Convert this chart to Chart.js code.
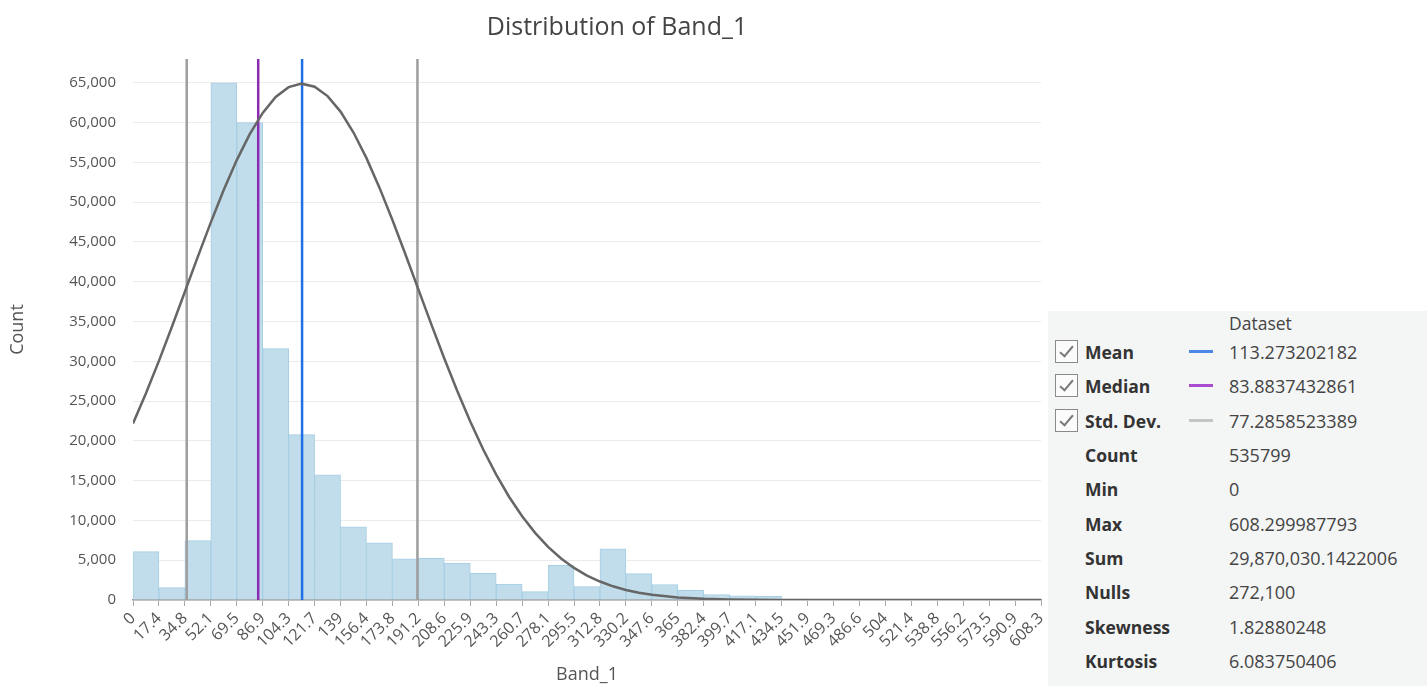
<!DOCTYPE html>
<html>
<head>
<meta charset="utf-8">
<title>Distribution of Band_1</title>
<script src="https://cdn.jsdelivr.net/npm/chart.js@4.4.1/dist/chart.umd.min.js"></script>
<style>
  html, body { margin: 0; padding: 0; background: #fff; }
  #wrap { position: relative; width: 1427px; height: 686px; overflow: hidden; font-family: 'Open Sans', sans-serif; }
  #chart { position: absolute; left: 0; top: 0; }
  #title { position: absolute; left: 0; top: 8px; width: 1234px; text-align: center; font-size: 25px; line-height: 34px; color: #444; }
  #stats { position: absolute; left: 1048px; top: 311px; width: 379px; height: 375px; background: #f4f5f5; color: #444; }
  #stats .head { position: absolute; left: 181px; top: 0; height: 24px; line-height: 24px; font-size: 17.5px; }
  #stats .row { position: absolute; left: 0; width: 379px; height: 34px; }
  #stats .box { position: absolute; left: 7px; top: 5px; width: 21px; height: 21px; border: 1.5px solid #8a8a8a; background: #fbfbfb; }
  #stats .box::after { content: ''; position: absolute; left: 7px; top: 2px; width: 5px; height: 12px; border-right: 2px solid #7a7a7a; border-bottom: 2px solid #7a7a7a; transform: rotate(40deg); }
  #stats .lab { position: absolute; left: 37px; top: 0; line-height: 34px; font-size: 17.5px; font-weight: bold; color: #333; }
  #stats .sw { position: absolute; left: 141px; top: 15px; width: 24px; height: 3px; }
  #stats .val { position: absolute; left: 181px; top: 0; line-height: 34px; font-size: 18px; color: #444; }
</style>
</head>
<body>
<div id="wrap">
  <canvas id="chart" width="1427" height="686"></canvas>
  <div id="title">Distribution of Band_1</div>
  <div id="stats"></div>
</div>
<script>
// Histogram bin edges (35 equal bins from Min to Max)
const binEdges = [0, 17.38, 34.76, 52.14, 69.52, 86.9, 104.28, 121.66, 139.04, 156.42,
  173.8, 191.18, 208.56, 225.94, 243.32, 260.7, 278.08, 295.46, 312.84, 330.22,
  347.6, 364.98, 382.36, 399.74, 417.12, 434.5, 451.88, 469.26, 486.64, 504.02,
  521.4, 538.78, 556.16, 573.54, 590.92, 608.3];

// Tick labels printed under each bin edge
const tickLabels = ['0', '17.4', '34.8', '52.1', '69.5', '86.9', '104.3', '121.7', '139', '156.4',
  '173.8', '191.2', '208.6', '225.9', '243.3', '260.7', '278.1', '295.5', '312.8', '330.2',
  '347.6', '365', '382.4', '399.7', '417.1', '434.5', '451.9', '469.3', '486.6', '504',
  '521.4', '538.8', '556.2', '573.5', '590.9', '608.3'];

// Count per bin
const binCounts = [6080, 1550, 7470, 65000, 60000, 31600, 20780, 15740, 9190, 7180,
  5180, 5250, 4650, 3340, 2000, 1050, 4370, 1680, 6420, 3320,
  1950, 1220, 670, 520, 460, 120, 70, 40, 25, 15,
  10, 8, 5, 3, 2];

// Fitted normal curve, sampled along the value axis
const curveX = [0, 8.69, 17.38, 26.07, 34.76, 43.45, 52.14, 60.83, 69.52, 78.21,
  86.9, 95.59, 104.28, 112.97, 121.66, 130.35, 139.04, 147.73, 156.42, 165.11,
  173.8, 182.49, 191.18, 199.87, 208.56, 217.25, 225.94, 234.63, 243.32, 252.01,
  260.7, 269.39, 278.08, 286.77, 295.46, 304.15, 312.84, 321.53, 330.22, 338.91,
  347.6, 364.98, 382.36, 399.74, 417.12, 434.5, 451.88, 469.26, 608.3];
const curveY = [22180, 25980, 30060, 34350, 38750, 43160, 47470, 51560, 55290, 58550,
  61230, 63230, 64460, 64900, 64520, 63340, 61390, 58760, 55540, 51830,
  47760, 43460, 39050, 34640, 30350, 26260, 22430, 18920, 15760, 12950,
  10520, 8440, 6680, 5220, 4030, 3070, 2320, 1720, 1260, 915,
  650, 320, 150, 70, 30, 10, 5, 0, 0];

// Count axis ticks
const yTicks = [0, 5000, 10000, 15000, 20000, 25000, 30000, 35000, 40000, 45000, 50000, 55000, 60000, 65000];
const yMax = 68000;

// Summary statistics
const statLabels = ['Mean', 'Median', 'Std. Dev.', 'Count', 'Min', 'Max', 'Sum', 'Nulls', 'Skewness', 'Kurtosis'];
const statValues = ['113.273202182', '83.8837432861', '77.2858523389', '535799', '0', '608.299987793',
  '29,870,030.1422006', '272,100', '1.82880248', '6.083750406'];
const statChecked = [true, true, true, false, false, false, false, false, false, false];
const statSwatch = ['#4a86e8', '#a94ccf', '#c4c4c4', null, null, null, null, null, null, null];

const meanValue = 113.273202182;
const medianValue = 83.8837432861;
const stdValue = 77.2858523389;

const FONT = "'Open Sans', sans-serif";
Chart.defaults.font.family = FONT;

function vline(x, color, order) {
  return {
    type: 'line',
    data: [{ x: x, y: 0 }, { x: x, y: yMax }],
    borderColor: color,
    borderWidth: 2.5,
    pointRadius: 0,
    order: order
  };
}

const barData = binCounts.map((c, i) => ({ x: (binEdges[i] + binEdges[i + 1]) / 2, y: c }));
const curveData = curveX.map((x, i) => ({ x: x, y: curveY[i] }));

new Chart(document.getElementById('chart'), {
  type: 'bar',
  data: {
    datasets: [
      {
        type: 'bar',
        data: barData,
        backgroundColor: '#c1dcea',
        borderColor: '#a6cfe4',
        borderWidth: 1,
        barPercentage: 1,
        categoryPercentage: 1,
        order: 5
      },
      vline(meanValue - stdValue, '#9e9e9e', 4),
      vline(meanValue + stdValue, '#9e9e9e', 4),
      vline(medianValue, '#8b2bb3', 3),
      vline(meanValue, '#1f6fe6', 2),
      {
        type: 'line',
        data: curveData,
        borderColor: '#666666',
        borderWidth: 2.5,
        pointRadius: 0,
        tension: 0,
        order: 1
      }
    ]
  },
  options: {
    responsive: false,
    animation: false,
    layout: { padding: { top: 59, left: 0, right: 386, bottom: 0 } },
    plugins: {
      legend: { display: false },
      tooltip: { enabled: false },
      title: { display: false }
    },
    scales: {
      x: {
        type: 'linear',
        min: 0,
        max: 608.3,
        offset: false,
        afterBuildTicks: s => { s.ticks = binEdges.map(v => ({ value: v })); },
        afterFit: s => { s.height = 86; },
        ticks: {
          autoSkip: false,
          minRotation: 45,
          maxRotation: 45,
          padding: 3,
          color: '#555',
          font: { size: 16 },
          callback: (v, i) => tickLabels[i]
        },
        grid: { offset: false, drawOnChartArea: false, drawTicks: true, tickLength: 6, color: '#a8a8a8', lineWidth: 1 },
        border: { display: true, color: '#9a9a9a', width: 1.5 },
        title: { display: true, text: 'Band_1', color: '#555', font: { size: 18 }, padding: { top: 0, bottom: 0 } }
      },
      y: {
        min: 0,
        max: yMax,
        afterBuildTicks: s => { s.ticks = yTicks.map(v => ({ value: v })); },
        afterFit: s => { s.width = 133; },
        ticks: {
          padding: 17,
          color: '#555',
          font: { size: 15 },
          callback: v => v.toLocaleString('en-US')
        },
        grid: { drawTicks: false, color: '#ebebeb', lineWidth: 1 },
        border: { display: false },
        title: { display: true, text: 'Count', color: '#555', font: { size: 18 }, padding: { top: 7, bottom: 0 } }
      }
    }
  }
});

// Statistics panel
const panel = document.getElementById('stats');
const head = document.createElement('div');
head.className = 'head';
head.textContent = 'Dataset';
panel.appendChild(head);
statLabels.forEach((name, i) => {
  const row = document.createElement('div');
  row.className = 'row';
  row.style.top = (24 + i * 34.33) + 'px';
  if (statChecked[i]) {
    const b = document.createElement('span');
    b.className = 'box';
    row.appendChild(b);
  }
  const l = document.createElement('span');
  l.className = 'lab';
  l.textContent = name;
  row.appendChild(l);
  if (statSwatch[i]) {
    const s = document.createElement('span');
    s.className = 'sw';
    s.style.background = statSwatch[i];
    row.appendChild(s);
  }
  const v = document.createElement('span');
  v.className = 'val';
  v.textContent = statValues[i];
  row.appendChild(v);
  panel.appendChild(row);
});
</script>
</body>
</html>
